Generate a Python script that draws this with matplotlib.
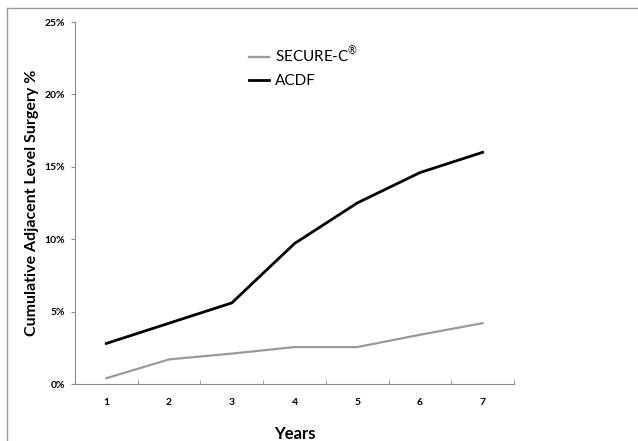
import matplotlib.pyplot as plt
from matplotlib.lines import Line2D
from matplotlib.ticker import FuncFormatter

years = [1, 2, 3, 4, 5, 6, 7]
secure_c = [0.4, 1.7, 2.1, 2.55, 2.55, 3.4, 4.2]
acdf = [2.8, 4.2, 5.6, 9.7, 12.5, 14.6, 16.0]
y_ticks = [0, 5, 10, 15, 20, 25]

plt.rcParams['font.family'] = ['Lato', 'DejaVu Sans']
plt.rcParams['mathtext.fontset'] = 'custom'
plt.rcParams['mathtext.rm'] = 'Lato'

fig = plt.figure(figsize=(6.38, 4.41), dpi=100)
ax = fig.add_axes([75 / 638, 1 - 384 / 441, 439 / 638, 362 / 441])

ax.plot(years, secure_c, color='#9a9a9a', lw=1.6, label='SECURE-C$^{\\circledR}$')
ax.plot(years, acdf, color='black', lw=2.0, label='ACDF')

ax.set_xlim(0.5, 7.5)
ax.set_ylim(0, 25)
ax.set_xticks(years)
ax.set_xticks([x + 0.5 for x in range(0, 8)], minor=True)
ax.set_yticks(y_ticks)
ax.yaxis.set_major_formatter(FuncFormatter(lambda v, p: f'{v:.0f}%'))

for s in ['top', 'right']:
    ax.spines[s].set_visible(False)
for s in ['left', 'bottom']:
    ax.spines[s].set_color('#8c8c8c')
    ax.spines[s].set_linewidth(0.8)

ax.tick_params(axis='x', which='major', length=0, pad=10)
ax.tick_params(axis='x', which='minor', length=3, direction='in', color='#8c8c8c')
ax.tick_params(axis='y', length=3, color='#8c8c8c', pad=4)
for lab in ax.get_xticklabels() + ax.get_yticklabels():
    lab.set_fontsize(7.5)
    lab.set_fontweight('bold')

ax.set_ylabel('Cumulative Adjacent Level Surgery %', fontsize=11.5, fontweight='bold', labelpad=4)
ax.set_xlabel('Years', fontsize=12, fontweight='bold', labelpad=14)

ax.legend(loc='upper left', bbox_to_anchor=(0.365, 0.975), frameon=False,
          fontsize=11, handlelength=1.3, handletextpad=0.4, labelspacing=0.6)

# figure border (top and left only visible)
fig.add_artist(Line2D([7 / 638, 1], [1 - 8 / 441, 1 - 8 / 441], color='#9a9a9a', lw=1.0))
fig.add_artist(Line2D([7 / 638, 7 / 638], [0, 1 - 8 / 441], color='#9a9a9a', lw=1.0))

fig.savefig('out.png', dpi=100)
